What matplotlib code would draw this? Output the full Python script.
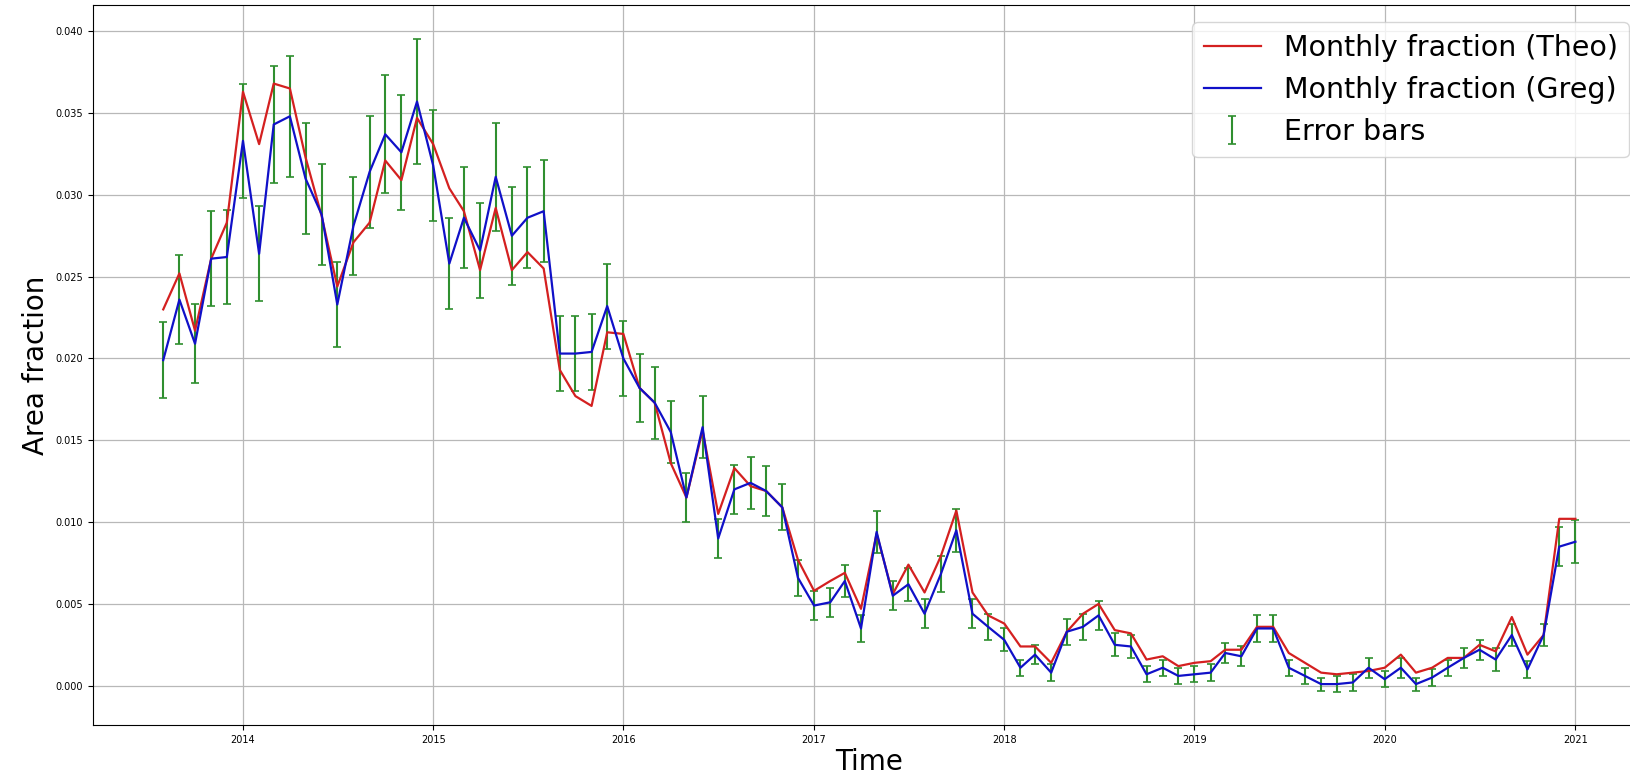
import matplotlib
matplotlib.use("Agg")
import matplotlib.pyplot as plt
import pandas as pd

# Monthly sampling dates (first of each month)
months = pd.date_range("2013-08-01", "2021-01-01", freq="MS")

# Monthly area fraction, Theo's estimate
theo = [
    0.0230, 0.0252, 0.0217, 0.0261, 0.0283,                                          # 2013 Aug-Dec
    0.0363, 0.0331, 0.0368, 0.0365, 0.0323, 0.0287, 0.0244, 0.0271, 0.0283, 0.0321, 0.0309, 0.0347,  # 2014
    0.0331, 0.0304, 0.0290, 0.0254, 0.0292, 0.0254, 0.0265, 0.0255, 0.0193, 0.0177, 0.0171, 0.0216,  # 2015
    0.0215, 0.0182, 0.0173, 0.0136, 0.0115, 0.0156, 0.0105, 0.0133, 0.0122, 0.0119, 0.0109, 0.0077,  # 2016
    0.0058, 0.0064, 0.0069, 0.0047, 0.0093, 0.0056, 0.0074, 0.0057, 0.0079, 0.0107, 0.0057, 0.0043,  # 2017
    0.0038, 0.0024, 0.0024, 0.0014, 0.0033, 0.0044, 0.0050, 0.0034, 0.0032, 0.0016, 0.0018, 0.0012,  # 2018
    0.0014, 0.0015, 0.0022, 0.0022, 0.0036, 0.0036, 0.0020, 0.0014, 0.0008, 0.0007, 0.0008, 0.0009,  # 2019
    0.0011, 0.0019, 0.0008, 0.0011, 0.0017, 0.0017, 0.0025, 0.0021, 0.0042, 0.0019, 0.0031, 0.0102,  # 2020
    0.0102,                                                                          # 2021 Jan
]

# Monthly area fraction, Greg's estimate
greg = [
    0.0199, 0.0236, 0.0209, 0.0261, 0.0262,
    0.0333, 0.0264, 0.0343, 0.0348, 0.0310, 0.0288, 0.0233, 0.0281, 0.0314, 0.0337, 0.0326, 0.0357,
    0.0318, 0.0258, 0.0286, 0.0266, 0.0311, 0.0275, 0.0286, 0.0290, 0.0203, 0.0203, 0.0204, 0.0232,
    0.0200, 0.0182, 0.0173, 0.0155, 0.0115, 0.0158, 0.0090, 0.0120, 0.0124, 0.0119, 0.0109, 0.0066,
    0.0049, 0.0051, 0.0064, 0.0035, 0.0094, 0.0055, 0.0062, 0.0044, 0.0068, 0.0095, 0.0044, 0.0036,
    0.0028, 0.0011, 0.0019, 0.0008, 0.0033, 0.0036, 0.0043, 0.0025, 0.0024, 0.0007, 0.0011, 0.0006,
    0.0007, 0.0008, 0.0020, 0.0018, 0.0035, 0.0035, 0.0011, 0.0006, 0.0001, 0.0001, 0.0002, 0.0011,
    0.0004, 0.0011, 0.0001, 0.0005, 0.0011, 0.0017, 0.0022, 0.0016, 0.0031, 0.0010, 0.0031, 0.0085,
    0.0088,
]

# Half-width of the uncertainty around Greg's estimate
err = [
    0.0023, 0.0027, 0.0024, 0.0029, 0.0029,
    0.0035, 0.0029, 0.0036, 0.0037, 0.0034, 0.0031, 0.0026, 0.0030, 0.0034, 0.0036, 0.0035, 0.0038,
    0.0034, 0.0028, 0.0031, 0.0029, 0.0033, 0.0030, 0.0031, 0.0031, 0.0023, 0.0023, 0.0023, 0.0026,
    0.0023, 0.0021, 0.0022, 0.0019, 0.0015, 0.0019, 0.0012, 0.0015, 0.0016, 0.0015, 0.0014, 0.0011,
    0.0009, 0.0009, 0.0010, 0.0008, 0.0013, 0.0009, 0.0010, 0.0009, 0.0011, 0.0013, 0.0009, 0.0008,
    0.0007, 0.0005, 0.0006, 0.0005, 0.0008, 0.0008, 0.0009, 0.0007, 0.0007, 0.0005, 0.0005, 0.0005,
    0.0005, 0.0005, 0.0006, 0.0006, 0.0008, 0.0008, 0.0005, 0.0005, 0.0004, 0.0005, 0.0005, 0.0006,
    0.0005, 0.0006, 0.0004, 0.0005, 0.0005, 0.0006, 0.0006, 0.0007, 0.0007, 0.0005, 0.0007, 0.0012,
    0.0013,
]

fig = plt.figure(figsize=(16.31, 7.74), dpi=100)
# axes runs slightly past the right edge of the canvas
ax = fig.add_axes([0.0568, 0.0633, 0.9524, 0.9302])

ax.errorbar(months, greg, yerr=err, fmt="none", ecolor="#2f8f2f",
            elinewidth=1.5, capsize=3, capthick=1.2, label="Error bars", zorder=2)
ax.plot(months, theo, color="#d42020", lw=1.6, label="Monthly fraction (Theo)", zorder=3)
ax.plot(months, greg, color="#1010c8", lw=1.6, label="Monthly fraction (Greg)", zorder=4)

ax.set_ylim(-0.0024, 0.0416)
ax.grid(True, color="#b8b8b8", lw=0.9)
ax.tick_params(labelsize=7)
ax.set_xlabel("Time", fontsize=20, labelpad=2)
ax.set_ylabel("Area fraction", fontsize=20)

ax.legend(loc="upper right", fontsize=20.5, borderaxespad=0.6)

fig.savefig("out.png", dpi=100)
